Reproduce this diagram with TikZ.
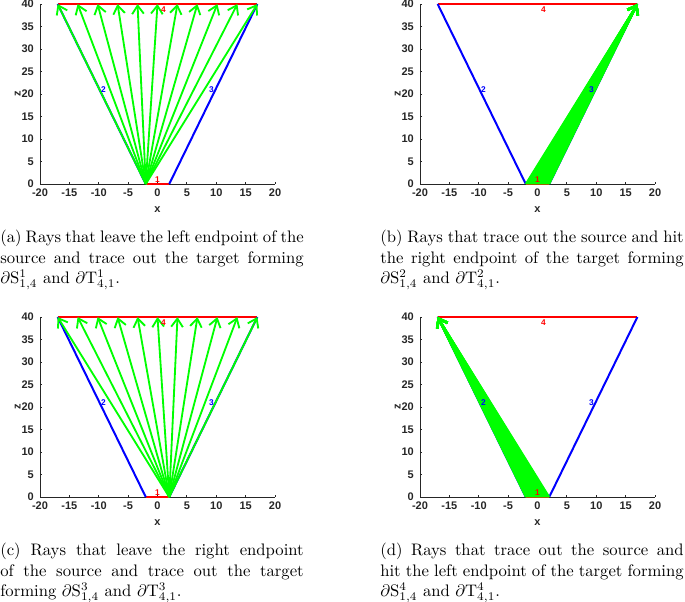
\documentclass[tikz,border=0pt]{standalone}
\usepackage{amsmath}
\usepackage{fontspec}
\newfontfamily\plotfont{Liberation Sans}
\usetikzlibrary{arrows.meta}

\definecolor{axisgray}{rgb}{0.15,0.15,0.15}

\tikzset{
  axisline/.style={draw=axisgray, line width=0.5pt},
  ticklbl/.style={inner sep=0pt, text=axisgray, font=\plotfont\bfseries\fontsize{6.6}{7}\selectfont},
  sidelbl/.style={inner sep=0pt, font=\plotfont\bfseries\fontsize{5}{5}\selectfont},
  edgered/.style={draw=red, line width=1.2pt},
  edgeblue/.style={draw=blue, line width=1.2pt},
  ray/.style={draw=green, line width=1.1pt, -{Straight Barb[length=5pt,width=7pt]}},
  captxt/.style={anchor=north west, inner sep=0pt, text width=182pt, align=justify,
    font=\fontsize{10}{12.3}\selectfont}
}

% axes, ticks and the four sides of one panel
\newcommand\plotframe[1]{%
  \draw[axisline] (-20,40) -- (-20,0) -- (20,0);
  \foreach \xv in {-20,-15,...,20} {
    \draw[axisline] (\xv,0) -- ++(0,0.55);
    \node[ticklbl, anchor=north] (#1-xt\xv) at (\xv,-1) {\xv};
  }
  \foreach \zv in {0,5,...,40} {
    \draw[axisline] (-20,\zv) -- ++(0.4,0);
    \node[ticklbl, anchor=east] (#1-zt\zv) at (-21,\zv) {\zv};
  }
  \node[ticklbl] (#1-xlbl) at (0,-5.6) {x};
  \node[ticklbl, rotate=90] (#1-zlbl) at (-23.8,20) {z};
  \coordinate (#1-sl) at (-2,0);
  \coordinate (#1-sr) at (2,0);
  \coordinate (#1-tl) at (-17,40);
  \coordinate (#1-tr) at (17,40);
  \draw[edgered] (#1-sl) -- (#1-sr);
  \draw[edgered] (#1-tl) -- (#1-tr);
  \draw[edgeblue] (#1-sl) -- (#1-tl);
  \draw[edgeblue] (#1-sr) -- (#1-tr);
}
\newcommand\sidelabels[1]{%
  \node[sidelbl, text=red] (#1-n1) at (0,0.9) {1};
  \node[sidelbl, text=blue] (#1-n2) at (-9.2,21) {2};
  \node[sidelbl, text=blue] (#1-n3) at (9.2,21) {3};
  \node[sidelbl, text=red] (#1-n4) at (1,38.8) {4};
}

\begin{document}
\begin{tikzpicture}
\useasboundingbox (0,0) rectangle (411pt,360.6pt);

% panel (a)
\begin{scope}[shift={(94.5pt,250.2pt)}, x=3.525pt, y=2.7pt]
\plotframe{a}
\foreach \k in {0,...,10} {
  \pgfmathsetmacro\tx{-17+3.4*\k}
  \coordinate (a-h\k) at (\tx,40);
  \draw[ray] (a-sl) -- (a-h\k);
}
\sidelabels{a}
\end{scope}

% panel (b)
\begin{scope}[shift={(322.5pt,250.2pt)}, x=3.525pt, y=2.7pt]
\plotframe{b}
\foreach \k in {0,...,40} {
  \pgfmathsetmacro\sx{-2+0.1*\k}
  \coordinate (b-s\k) at (\sx,0);
  \draw[ray] (b-s\k) -- (b-tr);
}
\sidelabels{b}
\end{scope}

% panel (c)
\begin{scope}[shift={(94.5pt,62.4pt)}, x=3.525pt, y=2.7pt]
\plotframe{c}
\foreach \k in {0,...,10} {
  \pgfmathsetmacro\tx{-17+3.4*\k}
  \coordinate (c-h\k) at (\tx,40);
  \draw[ray] (c-sr) -- (c-h\k);
}
\sidelabels{c}
\end{scope}

% panel (d)
\begin{scope}[shift={(322.5pt,62.4pt)}, x=3.525pt, y=2.7pt]
\plotframe{d}
\foreach \k in {0,...,40} {
  \pgfmathsetmacro\sx{-2+0.1*\k}
  \coordinate (d-s\k) at (\sx,0);
  \draw[ray] (d-s\k) -- (d-tl);
}
\sidelabels{d}
\end{scope}

% Text Node
\node[captxt] (capa) at (0pt,222.6pt) {\hyphenpenalty=10000 (a) Rays that leave the left endpoint of the\linebreak source and trace out the target forming\linebreak $\partial\mathrm{S}^1_{1,4}$ and $\partial\mathrm{T}^1_{4,1}$.};
% Text Node
\node[captxt] (capb) at (228pt,222.6pt) {\hyphenpenalty=10000 (b) Rays that trace out the source and hit\linebreak the right endpoint of the target forming\linebreak $\partial\mathrm{S}^2_{1,4}$ and $\partial\mathrm{T}^2_{4,1}$.};
% Text Node
\node[captxt] (capc) at (0pt,34.8pt) {\hyphenpenalty=10000 (c) Rays that leave the right endpoint\linebreak of the source and trace out the target\linebreak forming $\partial\mathrm{S}^3_{1,4}$ and $\partial\mathrm{T}^3_{4,1}$.};
% Text Node
\node[captxt] (capd) at (228pt,34.8pt) {\hyphenpenalty=10000 (d) Rays that trace out the source and\linebreak hit the left endpoint of the target forming\linebreak $\partial\mathrm{S}^4_{1,4}$ and $\partial\mathrm{T}^4_{4,1}$.};

\end{tikzpicture}
\end{document}
